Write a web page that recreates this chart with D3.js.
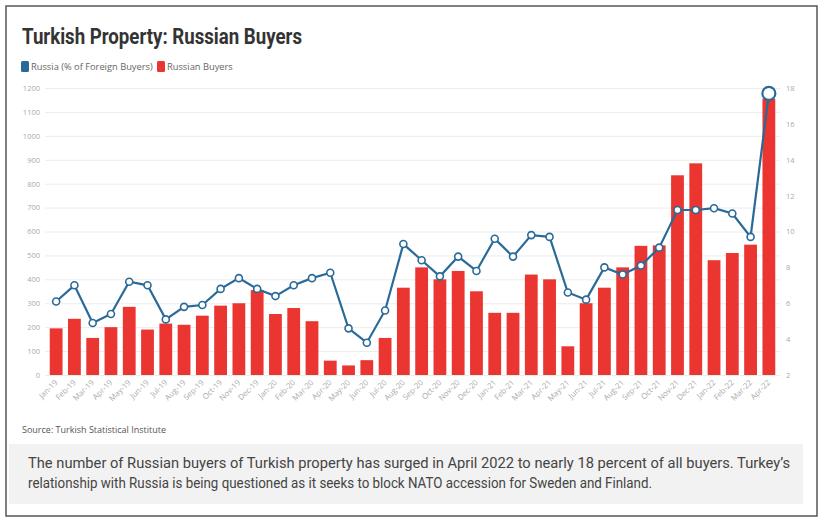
<!DOCTYPE html>
<html>
<head>
<meta charset="utf-8">
<script src="https://cdn.jsdelivr.net/npm/d3@7"></script>
<style>
  body { margin: 0; background: #fff; }
  svg { display: block; }
</style>
</head>
<body>
<div id="chart"></div>
<script>
var months = ["Jan-19","Feb-19","Mar-19","Apr-19","May-19","Jun-19","Jul-19","Aug-19","Sep-19","Oct-19","Nov-19","Dec-19",
  "Jan-20","Feb-20","Mar-20","Apr-20","May-20","Jun-20","Jul-20","Aug-20","Sep-20","Oct-20","Nov-20","Dec-20",
  "Jan-21","Feb-21","Mar-21","Apr-21","May-21","Jun-21","Jul-21","Aug-21","Sep-21","Oct-21","Nov-21","Dec-21",
  "Jan-22","Feb-22","Mar-22","Apr-22"];
var buyers = [195,235,155,200,285,190,215,210,248,290,300,355,
  255,280,225,60,40,62,155,365,450,400,435,350,
  260,260,420,400,120,300,365,450,540,542,835,885,
  480,510,545,1155];
var sharePct = [6.1,7.0,4.9,5.4,7.2,7.0,5.1,5.8,5.9,6.8,7.4,6.8,
  6.4,7.0,7.4,7.7,4.6,3.8,5.6,9.3,8.4,7.5,8.6,7.8,
  9.6,8.6,9.8,9.7,6.6,6.2,8.0,7.6,8.1,9.1,11.2,11.2,
  11.3,11.0,9.7,17.7];
var leftTicks = [0,100,200,300,400,500,600,700,800,900,1000,1100,1200];
var rightTicks = [2,4,6,8,10,12,14,16,18];

var W = 824, H = 523;
var svg = d3.select("#chart").append("svg").attr("width", W).attr("height", H);

// outer frame
svg.append("rect").attr("x", 6).attr("y", 6).attr("width", 811).attr("height", 510)
  .attr("fill", "#fff").attr("stroke", "#555").attr("stroke-width", 1.5);

// title + legend
svg.append("text").attr("x", 22).attr("y", 44)
  .attr("font-family", "Roboto").attr("font-weight", 700).attr("font-size", 22)
  .attr("fill", "#333").attr("textLength", 280).attr("lengthAdjust", "spacingAndGlyphs")
  .text("Turkish Property: Russian Buyers");

var legend = svg.append("g").attr("font-family", "Open Sans").attr("font-size", 9.3).attr("fill", "#666");
legend.append("rect").attr("x", 21).attr("y", 61).attr("width", 8).attr("height", 11).attr("rx", 1.5).attr("fill", "#2a6a99");
legend.append("text").attr("x", 31).attr("y", 70).text("Russia (% of Foreign Buyers)");
legend.append("rect").attr("x", 157).attr("y", 61).attr("width", 8).attr("height", 11).attr("rx", 1.5).attr("fill", "#ea3530");
legend.append("text").attr("x", 167).attr("y", 70).text("Russian Buyers");

// scales
var x = d3.scaleBand().domain(months).range([47, 778]).paddingInner(0.3).paddingOuter(0.15);
var yL = d3.scaleLinear().domain([0, 1200]).range([375, 88]);
var yR = d3.scaleLinear().domain([2, 18]).range([375, 88]);

// gridlines
svg.append("g").selectAll("line").data(leftTicks).enter().append("line")
  .attr("x1", 45).attr("x2", 780)
  .attr("y1", function (d) { return yL(d) + 0.5; }).attr("y2", function (d) { return yL(d) + 0.5; })
  .attr("stroke", "#ececec").attr("stroke-width", 1);

// axes
var axL = svg.append("g").attr("transform", "translate(40,0)")
  .call(d3.axisLeft(yL).tickValues(leftTicks).tickFormat(d3.format("d")).tickSize(0).tickPadding(0));
var axR = svg.append("g").attr("transform", "translate(786,0)")
  .call(d3.axisRight(yR).tickValues(rightTicks).tickFormat(d3.format("d")).tickSize(0).tickPadding(0));
[axL, axR].forEach(function (ax) {
  ax.select(".domain").remove();
  ax.selectAll("text").attr("font-family", "Open Sans").attr("font-size", 7.5).attr("fill", "#aaa");
});

var axX = svg.append("g").attr("transform", "translate(0,378)")
  .call(d3.axisBottom(x).tickSize(0).tickPadding(0));
axX.select(".domain").remove();
axX.selectAll("text")
  .attr("font-family", "Open Sans").attr("font-size", 7.8).attr("fill", "#aaa")
  .attr("text-anchor", "end").attr("dy", 0).attr("y", 0)
  .attr("transform", "translate(2,5) rotate(-45)");

// bars
svg.append("g").selectAll("rect").data(buyers).enter().append("rect")
  .attr("x", function (d, i) { return x(months[i]); })
  .attr("width", x.bandwidth())
  .attr("y", function (d) { return yL(d); })
  .attr("height", function (d) { return yL(0) - yL(d); })
  .attr("fill", "#ea3530");

// line
var line = d3.line()
  .x(function (d, i) { return x(months[i]) + x.bandwidth() / 2; })
  .y(function (d) { return yR(d); });
svg.append("path").datum(sharePct).attr("d", line)
  .attr("fill", "none").attr("stroke", "#2a6a99").attr("stroke-width", 2.2);
svg.append("g").selectAll("circle").data(sharePct).enter().append("circle")
  .attr("cx", function (d, i) { return x(months[i]) + x.bandwidth() / 2; })
  .attr("cy", function (d) { return yR(d); })
  .attr("r", function (d, i) { return i === sharePct.length - 1 ? 6.5 : 3.5; })
  .attr("fill", "#fff").attr("stroke", "#2a6a99")
  .attr("stroke-width", function (d, i) { return i === sharePct.length - 1 ? 2.2 : 1.6; });

// source
svg.append("text").attr("x", 22).attr("y", 433)
  .attr("font-family", "Open Sans").attr("font-size", 9).attr("fill", "#555")
  .text("Source: Turkish Statistical Institute");

// caption box
svg.append("rect").attr("x", 9).attr("y", 444).attr("width", 794).attr("height", 60).attr("fill", "#f2f2f2");
svg.append("text").attr("x", 28).attr("y", 468)
  .attr("font-family", "Roboto").attr("font-size", 15).attr("fill", "#444")
  .attr("textLength", 762).attr("lengthAdjust", "spacingAndGlyphs")
  .text("The number of Russian buyers of Turkish property has surged in April 2022 to nearly 18 percent of all buyers. Turkey\u2019s");
svg.append("text").attr("x", 28).attr("y", 488)
  .attr("font-family", "Roboto").attr("font-size", 15).attr("fill", "#444")
  .attr("textLength", 624).attr("lengthAdjust", "spacingAndGlyphs")
  .text("relationship with Russia is being questioned as it seeks to block NATO accession for Sweden and Finland.");
</script>
</body>
</html>
